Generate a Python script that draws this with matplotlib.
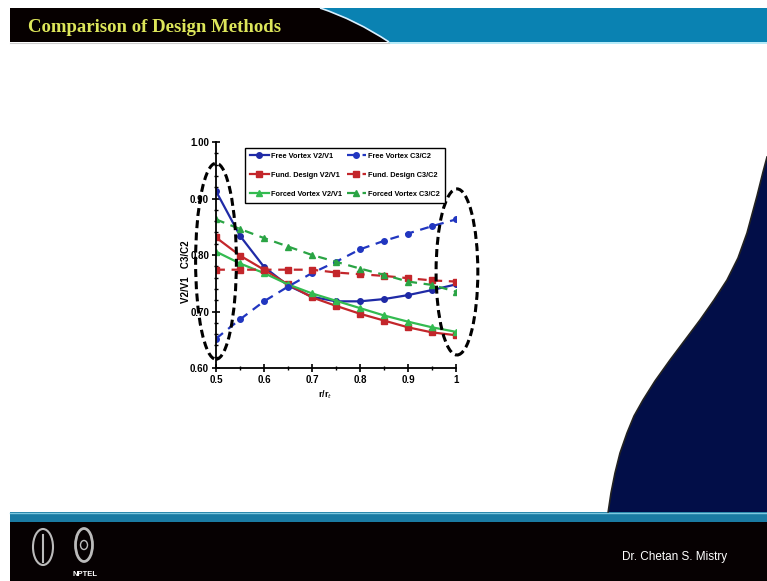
import numpy as np
import matplotlib
matplotlib.use("Agg")
from matplotlib import pyplot as plt
from matplotlib.patches import Rectangle, Ellipse, PathPatch, Polygon
from matplotlib.path import Path
from matplotlib.ticker import MultipleLocator, FixedLocator, FixedFormatter

# data
r = [0.5, 0.55, 0.6, 0.65, 0.7, 0.75, 0.8, 0.85, 0.9, 0.95, 1.0]
free_v2v1 = [0.913, 0.834, 0.779, 0.746, 0.726, 0.718, 0.718, 0.722, 0.729, 0.738, 0.748]
free_c3c2 = [0.652, 0.686, 0.718, 0.744, 0.768, 0.788, 0.810, 0.825, 0.838, 0.851, 0.863]
fund_v2v1 = [0.831, 0.799, 0.774, 0.748, 0.725, 0.710, 0.696, 0.684, 0.672, 0.663, 0.658]
fund_c3c2 = [0.774, 0.774, 0.774, 0.774, 0.774, 0.769, 0.766, 0.763, 0.759, 0.755, 0.753]
forced_v2v1 = [0.806, 0.785, 0.768, 0.748, 0.732, 0.719, 0.706, 0.693, 0.682, 0.672, 0.664]
forced_c3c2 = [0.863, 0.846, 0.830, 0.815, 0.800, 0.788, 0.776, 0.765, 0.753, 0.747, 0.735]

yticks = [0.6, 0.7, 0.8, 0.9, 1.0]
ytick_labels = ["0.60", "0.70", "0.80", "0.90", "1.00"]
xticks = [0.5, 0.6, 0.7, 0.8, 0.9, 1.0]
xtick_labels = ["0.5", "0.6", "0.7", "0.8", "0.9", "1"]

plt.rcParams['font.family'] = ['Liberation Sans', 'DejaVu Sans']

fig = plt.figure(figsize=(7.67, 5.81), dpi=100)
fig.patch.set_facecolor('white')

# ---- slide background, drawn in pixel coordinates ----
bg = fig.add_axes([0, 0, 1, 1], zorder=0)
bg.set_xlim(0, 767)
bg.set_ylim(581, 0)
bg.axis('off')

# header bar
bg.add_patch(Rectangle((10, 8), 757, 34, color='#0a82b2', lw=0))
hdr = Path([(10, 8), (320, 8), (356, 20), (389, 42), (10, 42), (10, 8)],
           [Path.MOVETO, Path.LINETO, Path.CURVE3, Path.CURVE3, Path.LINETO, Path.CLOSEPOLY])
bg.add_patch(PathPatch(hdr, facecolor='#060000', edgecolor='none'))
edge = Path([(320, 8), (356, 20), (389, 42)], [Path.MOVETO, Path.CURVE3, Path.CURVE3])
bg.add_patch(PathPatch(edge, facecolor='none', edgecolor='#d8f0ff', lw=1.2))
bg.plot([389, 767], [42.5, 42.5], color='#a8e8f8', lw=1.2)
bg.plot([10, 389], [42.5, 42.5], color='#cccccc', lw=0.8)
bg.text(28, 27, "Comparison of Design Methods", color='#dde65a', fontsize=13.5,
        fontweight='bold', family='Liberation Serif', va='center', ha='left')

# navy swoosh on the right
swoosh = [(767, 150), (767, 157), (763, 172), (757, 196), (747, 233), (738, 258),
          (727, 280), (714, 300), (700, 320), (670, 360), (655, 381), (643, 400),
          (634, 416), (627, 433), (620, 453), (615, 473), (611, 493), (608, 513),
          (767, 513)]
bg.add_patch(Polygon(swoosh, closed=True, facecolor='#020e48', edgecolor='none'))
sx, sy = zip(*swoosh[1:-1])
bg.plot(sx, sy, color='#222222', lw=1.2)

# footer
bg.add_patch(Rectangle((10, 512), 757, 10, color='#1a7ba3', lw=0))
bg.plot([10, 767], [512.5, 512.5], color='#7cc8e0', lw=1)
bg.add_patch(Rectangle((10, 522), 757, 59, color='#060102', lw=0))
bg.text(727, 557, "Dr. Chetan S. Mistry", color='white', fontsize=8.5,
        ha='right', va='center')
bg.add_patch(Ellipse((43, 547), 20, 36, facecolor='none', edgecolor='#bbbbbb', lw=1.5))
bg.plot([43, 43], [535, 562], color='#bbbbbb', lw=1.5)
bg.add_patch(Ellipse((84, 545), 17, 33, facecolor='none', edgecolor='#bbbbbb', lw=2))
bg.add_patch(Ellipse((84, 545), 7, 9, facecolor='none', edgecolor='#bbbbbb', lw=1))
bg.text(85, 575, "NPTEL", color='white', fontsize=5.5, fontweight='bold',
        ha='center', va='center')

# ---- the chart ----
ax = fig.add_axes([216 / 767, 1 - 368 / 581, 240 / 767, 226 / 581], zorder=2)
ax.patch.set_alpha(0)

blue, red, green = '#1f2aa6', '#c3262b', '#33bb50'
ax.plot(r, free_v2v1, '-o', color=blue, lw=1.6, ms=4, label='Free Vortex V2/V1')
ax.plot(r, fund_v2v1, '-s', color=red, lw=1.6, ms=4, label='Fund. Design V2/V1')
ax.plot(r, forced_v2v1, '-^', color=green, lw=1.6, ms=4, label='Forced Vortex V2/V1')
ax.plot(r, free_c3c2, 'o', ls=(0, (4, 3)), color='#2136c0', lw=1.6, ms=4,
        label='Free Vortex C3/C2')
ax.plot(r, fund_c3c2, 's', ls=(0, (4, 3)), color=red, lw=1.6, ms=4,
        label='Fund. Design C3/C2')
ax.plot(r, forced_c3c2, '^', ls=(0, (4, 3)), color='#2aa444', lw=1.6, ms=4,
        label='Forced Vortex C3/C2')

ax.set_xlim(0.5, 1.0)
ax.set_ylim(0.6, 1.0)
for s in ['top', 'right']:
    ax.spines[s].set_visible(False)
for s in ['left', 'bottom']:
    ax.spines[s].set_linewidth(1.3)
ax.xaxis.set_major_locator(FixedLocator(xticks))
ax.xaxis.set_major_formatter(FixedFormatter(xtick_labels))
ax.yaxis.set_major_locator(FixedLocator(yticks))
ax.yaxis.set_major_formatter(FixedFormatter(ytick_labels))
ax.xaxis.set_minor_locator(MultipleLocator(0.05))
ax.yaxis.set_minor_locator(MultipleLocator(0.02))
ax.tick_params(which='major', direction='inout', length=6, width=1.2, labelsize=7, pad=2)
ax.tick_params(which='minor', direction='inout', length=3, width=1)
for lab in ax.get_xticklabels() + ax.get_yticklabels():
    lab.set_fontweight('bold')

ax.set_xlabel('r/r$_t$', fontsize=6.5, fontweight='bold')
ax.xaxis.set_label_coords((325 - 216) / 240, -0.09)
ax.set_ylabel('V2/V1   C3/C2', fontsize=7, fontweight='bold')
ax.yaxis.set_label_coords(-0.105, 0.425)

ax.legend(loc='upper left', bbox_to_anchor=(0.104, 0.991), ncol=2,
          prop={'weight': 'bold', 'size': 5.3}, frameon=True, fancybox=False,
          edgecolor='black', framealpha=1, handlelength=2.6, labelspacing=1.6,
          columnspacing=0.7, handletextpad=0.25, borderpad=0.7)

# highlight ellipses
ell_style = dict(facecolor='none', edgecolor='black', lw=2.2,
                 ls=(0, (2.6, 1.4)), clip_on=False, zorder=5)
ax.add_patch(Ellipse((0.5, 0.789), 0.085, 0.347, **ell_style))
ax.add_patch(Ellipse((1.002, 0.770), 0.087, 0.294, **ell_style))

fig.savefig('out.png', dpi=100)
